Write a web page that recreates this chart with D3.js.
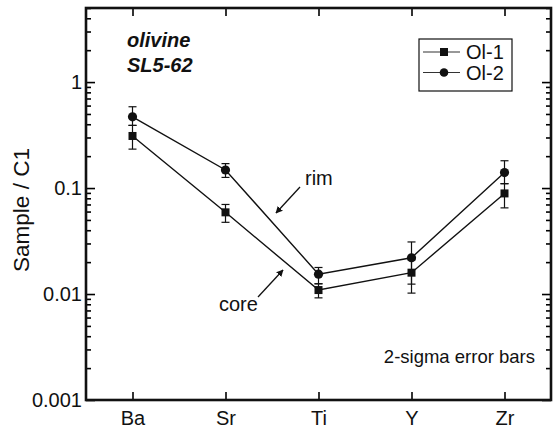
<!DOCTYPE html>
<html>
<head>
<meta charset="utf-8">
<script src="https://cdn.jsdelivr.net/npm/d3@7"></script>
<style>
  body { margin: 0; background: #fff; }
  svg { display: block; font-family: "Liberation Sans", Arial, Helvetica, sans-serif; }
</style>
</head>
<body>
<div id="chart"></div>
<script>
// chondrite-normalised trace elements, olivine SL5-62
const categories = ["Ba", "Sr", "Ti", "Y", "Zr"];
const ol1 = [0.31, 0.059, 0.0109, 0.0159, 0.089];
const ol1Hi = [0.39, 0.070, 0.0125, 0.021, 0.11];
const ol1Lo = [0.233, 0.0475, 0.0092, 0.0102, 0.065];
const ol2 = [0.47, 0.148, 0.0154, 0.022, 0.14];
const ol2Hi = [0.585, 0.170, 0.0178, 0.031, 0.181];
const ol2Lo = [0.39, 0.126, 0.0125, 0.0124, 0.11];
const yMajor = [0.001, 0.01, 0.1, 1];
const yLabels = ["0.001", "0.01", "0.1", "1"];

const width = 555, height = 430;
const m = { left: 86, right: 551, top: 8, bottom: 400 };

const svg = d3.select("#chart").append("svg")
  .attr("width", width)
  .attr("height", height);

const x = d3.scalePoint()
  .domain(categories)
  .range([m.left, m.right])
  .padding(0.5);

const y = d3.scaleLog()
  .domain([0.001, 5])
  .range([m.bottom, m.top]);

// minor ticks 2..9 per decade
const yMinor = [];
for (let d = 0.001; d < 5; d *= 10) {
  for (let k = 2; k <= 9; k++) {
    const v = +(d * k).toPrecision(3);
    if (v <= 5) yMinor.push(v);
  }
}

function tickStyle(g) {
  g.select(".domain").remove();
  g.selectAll(".tick line").attr("stroke", "#000").attr("stroke-width", 1.6);
}

// left axis, ticks inside
svg.append("g")
  .attr("transform", `translate(${m.left},0)`)
  .call(d3.axisRight(y).tickValues(yMajor).tickSize(9).tickFormat(""))
  .call(tickStyle);
svg.append("g")
  .attr("transform", `translate(${m.left},0)`)
  .call(d3.axisRight(y).tickValues(yMinor).tickSize(5).tickFormat(""))
  .call(tickStyle);
// right axis, ticks inside
svg.append("g")
  .attr("transform", `translate(${m.right},0)`)
  .call(d3.axisLeft(y).tickValues(yMajor).tickSize(9).tickFormat(""))
  .call(tickStyle);
svg.append("g")
  .attr("transform", `translate(${m.right},0)`)
  .call(d3.axisLeft(y).tickValues(yMinor).tickSize(5).tickFormat(""))
  .call(tickStyle);

// y labels
svg.append("g")
  .attr("transform", `translate(${m.left},0)`)
  .call(d3.axisLeft(y).tickValues(yMajor).tickSize(0).tickPadding(4)
    .tickFormat((d, i) => yLabels[i]))
  .call(g => g.select(".domain").remove())
  .call(g => g.selectAll("text").attr("font-size", 20).attr("fill", "#111")
    .attr("font-family", "'Liberation Sans', Arial, sans-serif"));

// bottom + top category ticks
svg.append("g")
  .attr("transform", `translate(0,${m.bottom})`)
  .call(d3.axisTop(x).tickSize(8).tickFormat(""))
  .call(tickStyle);
svg.append("g")
  .attr("transform", `translate(0,${m.top})`)
  .call(d3.axisBottom(x).tickSize(8).tickFormat(""))
  .call(tickStyle);
svg.append("g")
  .attr("transform", `translate(0,${m.bottom})`)
  .call(d3.axisBottom(x).tickSize(0).tickPadding(11))
  .call(g => g.select(".domain").remove())
  .call(g => g.selectAll("text").attr("font-size", 20).attr("fill", "#111")
    .attr("font-family", "'Liberation Sans', Arial, sans-serif"));

// frame
svg.append("rect")
  .attr("x", m.left).attr("y", m.top)
  .attr("width", m.right - m.left).attr("height", m.bottom - m.top)
  .attr("fill", "none").attr("stroke", "#111").attr("stroke-width", 2.6);

// y title
svg.append("text")
  .attr("transform", `translate(29,210) rotate(-90)`)
  .attr("text-anchor", "middle")
  .attr("font-size", 22.5)
  .attr("fill", "#111")
  .text("Sample / C1");

const series = [
  { name: "Ol-1", vals: ol1, hi: ol1Hi, lo: ol1Lo, shape: "square" },
  { name: "Ol-2", vals: ol2, hi: ol2Hi, lo: ol2Lo, shape: "circle" }
];

const line = d3.line()
  .x((d, i) => x(categories[i]))
  .y(d => y(d));

series.forEach(s => {
  const g = svg.append("g");
  g.append("path")
    .datum(s.vals)
    .attr("d", line)
    .attr("fill", "none")
    .attr("stroke", "#111")
    .attr("stroke-width", 1.4);

  // error bars
  const eb = g.selectAll(".eb")
    .data(categories)
    .join("g");
  eb.append("line")
    .attr("x1", d => x(d)).attr("x2", d => x(d))
    .attr("y1", (d, i) => y(s.hi[i])).attr("y2", (d, i) => y(s.lo[i]))
    .attr("stroke", "#111").attr("stroke-width", 1.2);
  eb.append("line")
    .attr("x1", d => x(d) - 4).attr("x2", d => x(d) + 4)
    .attr("y1", (d, i) => y(s.hi[i])).attr("y2", (d, i) => y(s.hi[i]))
    .attr("stroke", "#111").attr("stroke-width", 1.2);
  eb.append("line")
    .attr("x1", d => x(d) - 4).attr("x2", d => x(d) + 4)
    .attr("y1", (d, i) => y(s.lo[i])).attr("y2", (d, i) => y(s.lo[i]))
    .attr("stroke", "#111").attr("stroke-width", 1.2);

  if (s.shape === "square") {
    g.selectAll(".m")
      .data(s.vals)
      .join("rect")
      .attr("x", (d, i) => x(categories[i]) - 4)
      .attr("y", d => y(d) - 4)
      .attr("width", 8).attr("height", 8)
      .attr("fill", "#111");
  } else {
    g.selectAll(".m")
      .data(s.vals)
      .join("circle")
      .attr("cx", (d, i) => x(categories[i]))
      .attr("cy", d => y(d))
      .attr("r", 4.6)
      .attr("fill", "#111");
  }
});

// sample label
svg.append("text")
  .attr("x", 127).attr("y", 47)
  .attr("font-size", 20).attr("font-weight", "bold").attr("font-style", "italic")
  .attr("fill", "#111")
  .text("olivine");
svg.append("text")
  .attr("x", 127).attr("y", 72)
  .attr("font-size", 20).attr("font-weight", "bold").attr("font-style", "italic")
  .attr("fill", "#111")
  .text("SL5-62");

// legend
const legend = svg.append("g");
legend.append("rect")
  .attr("x", 419).attr("y", 39).attr("width", 93).attr("height", 52)
  .attr("fill", "#fff").attr("stroke", "#111").attr("stroke-width", 1.2);
series.forEach((s, i) => {
  const ly = 52 + i * 20.5;
  legend.append("line")
    .attr("x1", 423).attr("x2", 460).attr("y1", ly).attr("y2", ly)
    .attr("stroke", "#333").attr("stroke-width", 1.2);
  if (s.shape === "square") {
    legend.append("rect").attr("x", 440).attr("y", ly - 4).attr("width", 8).attr("height", 8).attr("fill", "#111");
  } else {
    legend.append("circle").attr("cx", 444).attr("cy", ly).attr("r", 4.3).attr("fill", "#111");
  }
  legend.append("text")
    .attr("x", 466).attr("y", ly + 7)
    .attr("font-size", 20).attr("fill", "#111")
    .text(s.name);
});

// annotations
const defs = svg.append("defs");
defs.append("marker")
  .attr("id", "arrow")
  .attr("viewBox", "0 0 10 10")
  .attr("refX", 9).attr("refY", 5)
  .attr("markerWidth", 7).attr("markerHeight", 7)
  .attr("markerUnits", "userSpaceOnUse")
  .attr("orient", "auto")
  .append("path")
  .attr("d", "M0,0 L10,5 L0,10 z")
  .attr("fill", "#111");

svg.append("line")
  .attr("x1", 300).attr("y1", 187).attr("x2", 276).attr("y2", 213)
  .attr("stroke", "#111").attr("stroke-width", 1.3)
  .attr("marker-end", "url(#arrow)");
svg.append("line")
  .attr("x1", 258).attr("y1", 297).attr("x2", 283).attr("y2", 270)
  .attr("stroke", "#111").attr("stroke-width", 1.3)
  .attr("marker-end", "url(#arrow)");
svg.append("text")
  .attr("x", 305).attr("y", 185)
  .attr("font-size", 20).attr("fill", "#111")
  .text("rim");
svg.append("text")
  .attr("x", 219).attr("y", 311)
  .attr("font-size", 20).attr("fill", "#111")
  .text("core");
svg.append("text")
  .attr("x", 535).attr("y", 363)
  .attr("text-anchor", "end")
  .attr("font-size", 18.5).attr("fill", "#111")
  .text("2-sigma error bars");
</script>
</body>
</html>
